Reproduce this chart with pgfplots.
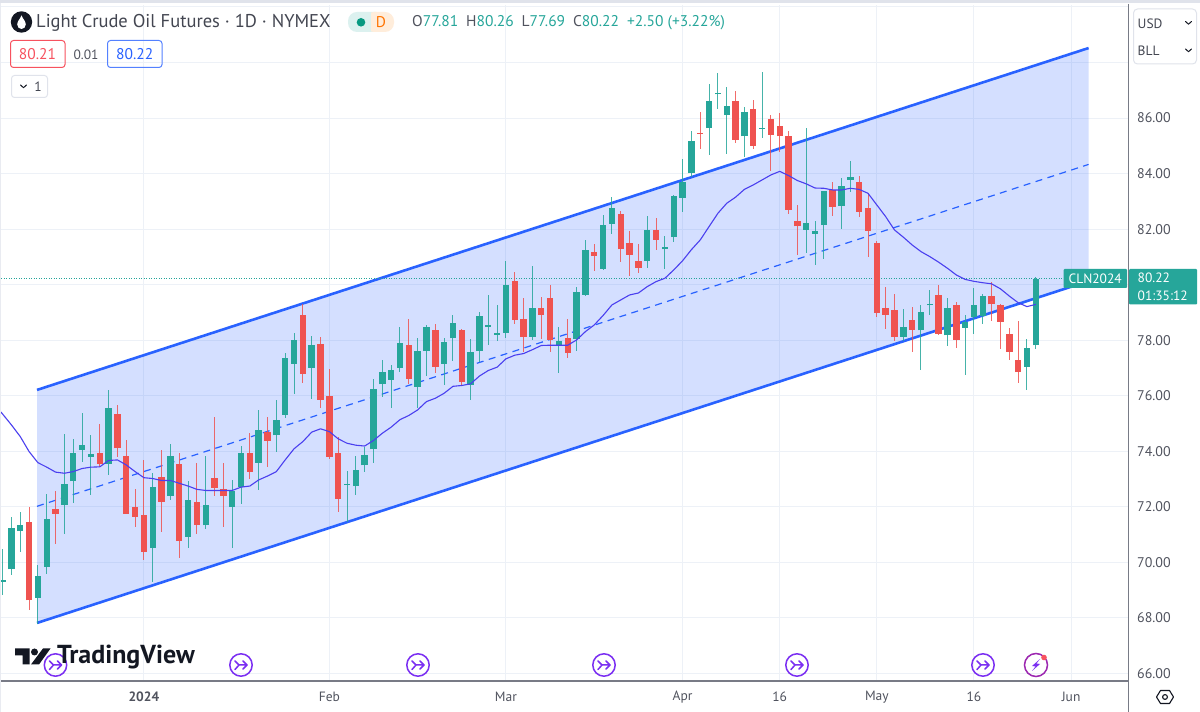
\documentclass[border=0pt]{standalone}
\usepackage{pgfplots}
\usepackage{pgfplotstable}
\usepackage{fontspec}
\pgfplotsset{compat=1.18}
\setmainfont{PT Sans}
\definecolor{cup}{HTML}{26A69A}
\definecolor{cdn}{HTML}{EF5350}
\definecolor{chan}{HTML}{2962FF}
\definecolor{ma}{HTML}{4A3FEF}
\definecolor{gridc}{HTML}{EDF1F7}
\definecolor{axc}{HTML}{787B86}
\definecolor{txt}{HTML}{50535E}
\definecolor{bord}{HTML}{E0E3EB}
\definecolor{evt}{HTML}{7B2FF2}
\definecolor{bolt}{HTML}{9C27B0}
\definecolor{dotg}{HTML}{089981}
\definecolor{ttl}{HTML}{434651}
\definecolor{logoc}{HTML}{131722}
\definecolor{redb}{HTML}{F7525F}
\pgfplotstableread{
i h t b l
0 70.49 69.37 69.29 68.81
1 71.65 71.24 69.75 69.53
2 71.81 71.35 71.13 70.37
4 69.89 69.50 68.72 67.79
5 72.47 71.58 69.85 69.59
7 74.61 72.84 72.06 71.04
8 74.45 73.95 72.92 72.15
9 75.37 74.22 74.04 73.62
10 74.58 73.89 73.81 72.44
12 76.21 75.57 73.56 73.15
17 73.23 72.71 70.51 69.31
19 74.25 73.82 72.39 72.23
21 72.93 72.24 70.92 70.51
23 73.82 72.05 71.33 71.19
26 72.97 72.57 71.99 70.53
27 74.18 73.95 72.71 72.12
29 75.48 74.78 73.59 72.59
31 75.84 75.12 74.57 73.97
32 77.53 77.36 75.30 75.19
33 78.25 78.01 77.15 76.08
35 78.15 77.83 77.00 75.89
39 73.29 72.83 72.78 71.45
40 73.82 73.33 72.75 72.43
41 74.17 73.86 73.49 73.25
42 76.61 76.25 74.07 73.58
43 77.30 76.87 76.41 75.96
44 77.10 76.93 76.58 75.56
45 78.49 77.89 77.01 76.87
47 78.09 77.60 76.33 75.56
48 78.53 78.49 77.61 76.71
50 78.09 77.93 77.16 76.37
51 78.92 78.62 78.07 77.24
53 78.06 77.59 76.40 75.86
54 79.01 78.87 77.61 77.22
55 79.64 78.55 78.47 77.81
56 79.27 78.25 78.20 77.97
57 80.87 79.98 78.27 78.07
60 80.66 79.15 78.13 78.01
63 78.49 77.96 77.81 76.81
65 79.91 79.74 78.05 77.60
66 81.62 81.26 79.63 79.59
68 82.51 82.15 80.58 80.57
69 83.15 82.75 82.20 81.83
73 82.47 81.96 80.85 80.61
75 81.75 81.36 81.27 80.58
76 83.22 83.18 81.71 81.55
77 84.51 83.70 83.13 82.63
78 85.53 85.16 84.01 83.89
80 87.24 86.60 85.64 84.68
81 87.63 86.91 86.85 86.34
82 87.11 86.45 86.10 84.72
84 86.39 86.22 85.34 84.59
86 87.67 85.65 85.61 85.27
91 85.65 82.21 81.97 81.13
92 82.28 81.92 81.84 80.72
93 83.39 83.37 82.14 80.91
95 83.84 83.57 82.83 82.01
96 84.47 83.87 83.78 83.35
102 79.11 78.49 78.13 77.96
104 79.28 79.02 78.35 76.91
105 79.81 79.29 79.25 78.92
107 79.51 79.15 78.17 77.79
109 78.91 78.67 78.44 76.73
110 79.88 79.25 78.84 78.24
111 79.67 79.58 78.87 78.60
116 78.06 77.72 77.05 76.19
117 80.26 80.22 77.81 77.69
}\UpTable
\pgfplotstableread{
i h t b l
3 71.99 71.45 68.63 68.27
6 72.57 71.91 71.76 70.67
11 74.97 73.93 73.55 73.44
13 75.68 75.33 74.11 73.79
14 74.42 73.82 71.76 71.76
15 72.63 72.01 71.64 71.27
16 73.67 71.71 70.38 70.07
18 74.03 73.07 72.19 71.11
20 73.95 73.53 70.77 70.17
22 73.59 72.18 71.36 71.04
24 75.25 73.03 72.69 72.39
25 73.57 72.63 72.39 71.27
28 74.65 73.93 73.26 73.02
30 75.25 74.69 74.37 73.44
34 79.31 78.91 76.79 76.45
36 78.12 77.85 75.86 75.55
37 76.97 75.98 73.81 73.74
38 74.51 73.93 72.29 71.83
46 78.78 77.82 76.62 76.43
49 78.59 78.36 77.05 76.81
52 78.39 78.38 76.50 76.37
58 80.45 80.13 78.74 78.59
59 79.52 78.75 78.13 77.57
61 79.55 79.15 78.92 78.03
62 80.00 79.51 78.01 77.58
64 78.75 78.08 77.54 77.37
67 81.47 81.17 81.03 80.51
70 82.64 82.55 81.27 80.83
71 81.92 81.49 81.08 80.31
72 81.45 80.87 80.61 80.43
74 82.39 81.96 81.61 81.24
79 86.22 85.47 85.43 84.87
83 86.96 86.60 85.21 85.11
85 86.64 86.31 85.01 84.87
87 86.11 85.95 85.40 84.09
88 86.18 85.71 85.34 84.79
89 85.53 85.34 82.70 82.56
90 82.86 82.28 82.10 81.07
94 83.71 83.41 82.80 82.46
97 83.90 83.70 82.63 82.44
98 83.29 82.77 81.95 80.99
99 81.59 81.49 78.99 78.85
100 79.91 79.15 78.92 78.42
101 79.65 79.08 78.11 77.97
103 79.19 78.73 78.37 77.58
106 79.99 79.62 78.24 78.17
108 79.38 79.25 78.01 77.71
112 80.10 79.58 79.29 78.69
113 79.31 79.25 78.67 77.67
114 78.43 78.21 77.58 77.27
115 78.68 77.29 76.85 76.45
}\DownTable
\pgfplotstableread{
i p
-0.2 75.42
1 74.95
2 74.53
3 73.99
4 73.59
5 73.43
6 73.25
7 73.21
8 73.27
9 73.38
10 73.43
11 73.44
12 73.67
13 73.69
14 73.51
15 73.27
16 73.05
17 73.02
18 72.95
19 72.95
20 72.85
21 72.75
22 72.63
23 72.59
24 72.59
25 72.59
26 72.59
27 72.71
28 72.75
29 72.97
30 73.11
31 73.27
32 73.69
33 74.09
34 74.35
35 74.69
36 74.81
37 74.71
38 74.45
39 74.29
40 74.22
41 74.19
42 74.39
43 74.65
44 74.87
45 75.14
46 75.29
47 75.49
48 75.79
49 75.91
50 76.09
51 76.34
52 76.37
53 76.43
54 76.71
55 76.91
56 77.03
57 77.33
58 77.46
59 77.52
60 77.66
61 77.81
62 77.82
63 77.82
64 77.82
65 78.01
66 78.31
67 78.55
68 78.89
69 79.27
70 79.45
71 79.63
72 79.70
73 79.93
74 80.11
75 80.23
76 80.53
77 80.86
78 81.26
79 81.61
80 82.09
81 82.57
82 82.93
83 83.15
84 83.43
85 83.59
86 83.77
87 83.95
88 84.08
89 83.93
90 83.75
91 83.63
92 83.48
93 83.47
94 83.41
95 83.41
96 83.47
97 83.43
98 83.29
99 82.87
100 82.45
101 81.97
102 81.71
103 81.43
104 81.19
105 81.01
106 80.81
107 80.59
108 80.35
109 80.19
110 80.12
111 80.07
112 80.03
113 79.85
114 79.59
115 79.35
116 79.21
117 79.29
}\MATable
\newcommand{\evticon}[2]{%
  \begin{scope}[shift={(#1,#2)}]
    \draw[evt,line width=1.5pt] (0,0) circle (11.2);
    \draw[evt,line width=1.5pt,line cap=round,line join=round]
      (-6,-4) -- (-2,0) -- (-6,4.5) (-2,0) -- (6,0) (2,-4) -- (6,0) -- (2,4);
  \end{scope}}
\newcommand{\chev}[2]{\draw[logoc,line width=1pt,line cap=round,line join=round] (#1-3,#2-1.5) -- (#1,#2+1.2) -- (#1+3,#2-1.5);}
\begin{document}
\begin{tikzpicture}[x=1pt,y=1pt]
\path[use as bounding box,fill=white] (0,0) rectangle (1200,712);
\begin{axis}[
  at={(0pt,31pt)}, anchor=south west,
  scale only axis, width=1128.5pt, height=676pt,
  xmin=-0.295, xmax=127.5, ymin=65.73, ymax=90.07,
  axis line style={draw=none}, clip=true,
  major tick length=0pt,
  xtick={16,37,57,77,88,99,110,121},
  xticklabels={\textbf{2024},Feb,Mar,Apr,16,May,16,Jun},
  ytick={66,68,70,72,74,76,78,82,84,86},
  extra y ticks={80,88,90}, extra y tick labels={},
  extra y tick style={grid=major},
  yticklabel pos=right,
  grid=major,
  grid style={gridc,line width=1pt},
  xticklabel style={anchor=center,inner sep=0pt,yshift=-16pt,font=\fontsize{13.5}{14}\selectfont,text=txt},
  yticklabel style={anchor=west,inner sep=0pt,xshift=8.5pt,font=\fontsize{14}{15}\selectfont,text=txt,
    /pgf/number format/.cd,fixed,fixed zerofill,precision=2,assume math mode=true},
]
% channel fill
\addplot[fill=chan,fill opacity=0.2,draw=none,forget plot] coordinates
  {(3.896,76.21) (122.98,88.52) (122.98,80.13) (3.896,67.82)} -- cycle;
\addplot[chan,line width=1.2pt,dash pattern=on 7pt off 5.5pt] coordinates {(3.896,72.02) (122.98,84.33)};
\addplot[chan,line width=2.6pt] coordinates {(3.896,76.21) (122.98,88.52)};
\addplot[chan,line width=2.6pt] coordinates {(3.896,67.82) (122.98,80.13)};
% last price line
\addplot[cup,line width=0.9pt,dash pattern=on 1pt off 1.5pt] coordinates {(-1,80.22) (120,80.22)};
% wicks
\addplot[draw=none,no markers,error bars/.cd,y dir=both,y explicit,error mark=none,
  error bar style={cup,line width=1pt,opacity=0.85,solid}]
  table[x=i,y=b,y error plus expr=\thisrow{h}-\thisrow{b},y error minus expr=\thisrow{b}-\thisrow{l}] {\UpTable};
\addplot[draw=none,no markers,error bars/.cd,y dir=both,y explicit,error mark=none,
  error bar style={cdn,line width=1pt,opacity=0.85,solid}]
  table[x=i,y=b,y error plus expr=\thisrow{h}-\thisrow{b},y error minus expr=\thisrow{b}-\thisrow{l}] {\DownTable};
% bodies
\addplot[draw=none,no markers,error bars/.cd,y dir=plus,y explicit,error mark=none,
  error bar style={cup,line width=6.4pt,solid}]
  table[x=i,y=b,y error plus expr=\thisrow{t}-\thisrow{b}] {\UpTable};
\addplot[draw=none,no markers,error bars/.cd,y dir=plus,y explicit,error mark=none,
  error bar style={cdn,line width=6.4pt,solid}]
  table[x=i,y=b,y error plus expr=\thisrow{t}-\thisrow{b}] {\DownTable};
% moving average
\addplot[ma,line width=1.1pt,line join=round] table[x=i,y=p] {\MATable};
\end{axis}
\begin{scope}[y=-1pt,yshift=712pt]
% frame
\fill[bord] (0,0) rectangle (1200,3);
\fill[bord!70] (0,3) rectangle (1,712);
\draw[axc,line width=1.1pt] (1,681) -- (1128.5,681);
\draw[axc,line width=1.1pt] (1128.5,4) -- (1128.5,712);
% header
\fill[logoc] (21.5,22) circle (10.7);
\fill[white] (21.5,15.5) .. controls (20,19) and (17.2,21.5) .. (17.2,24.5)
  .. controls (17.2,27) and (19.2,29) .. (21.5,29)
  .. controls (23.8,29) and (25.8,27) .. (25.8,24.5)
  .. controls (25.8,21.5) and (23,19) .. (21.5,15.5) -- cycle;
\node[anchor=west,inner sep=0pt,text=ttl,font=\fontsize{18.5}{19}\selectfont] at (36,23) {Light Crude Oil Futures · 1D · NYMEX};
\fill[cup!16,rounded corners=9pt] (348,12) rectangle (385,32);
\fill[orange!14,rounded corners=9pt] (365,12) rectangle (394,32);
\fill[cup!16] (360,12) rectangle (371,32);
\fill[dotg] (361,22.3) circle (4.3);
\node[inner sep=0pt,text=orange!90!red,font=\fontsize{15.5}{16}\selectfont] at (381,22.3) {D};
\node[anchor=west,inner sep=0pt,font=\fontsize{15.5}{16}\selectfont] at (412,22.3)
  {\textcolor{txt}{O}\textcolor{cup}{77.81}\hspace{8pt}\textcolor{txt}{H}\textcolor{cup}{80.26}\hspace{8pt}\textcolor{txt}{L}\textcolor{cup}{77.69}\hspace{8pt}\textcolor{txt}{C}\textcolor{cup}{80.22}\hspace{8pt}\textcolor{cup}{+2.50 (+3.22\%)}};
\draw[redb,line width=1pt,rounded corners=3pt] (10.5,40.5) rectangle (65,67.5);
\node[inner sep=0pt,text=redb,font=\fontsize{15.5}{16}\selectfont] at (37.5,54.5) {80.21};
\node[inner sep=0pt,text=txt,font=\fontsize{13.5}{14}\selectfont] at (86,54.5) {0.01};
\draw[chan!80,line width=1pt,rounded corners=3pt] (107.5,40.5) rectangle (162,67.5);
\node[inner sep=0pt,text=chan,font=\fontsize{15.5}{16}\selectfont] at (134.7,54.5) {80.22};
\draw[bord,line width=1pt,rounded corners=3pt,fill=white] (11.5,75.5) rectangle (47.5,97.5);
\chev{23.5}{86.5}
\node[inner sep=0pt,text=ttl,font=\fontsize{13.5}{14}\selectfont] at (38,86.5) {1};
% right controls
\draw[bord,line width=1pt,rounded corners=4pt,fill=white] (1133.5,9) rectangle (1196.5,64);
\node[anchor=west,inner sep=0pt,text=ttl,font=\fontsize{13.5}{14}\selectfont] at (1137.5,23.5) {USD};
\node[anchor=west,inner sep=0pt,text=ttl,font=\fontsize{13.5}{14}\selectfont] at (1137.5,51) {BLL};
\chev{1188.5}{23}
\chev{1188.5}{50.5}
% price tags
\fill[cup,rounded corners=1pt] (1063.5,269) rectangle (1127,288);
\node[inner sep=0pt,text=white,font=\fontsize{13.5}{14}\selectfont] at (1095.2,278.5) {CLN2024};
\fill[cup,rounded corners=1pt] (1129,269) rectangle (1197,304.5);
\node[anchor=west,inner sep=0pt,text=white,font=\fontsize{13.5}{14}\selectfont] at (1137.5,278) {80.22};
\node[anchor=west,inner sep=0pt,text=white,font=\fontsize{13.5}{14}\selectfont] at (1137.5,295.5) {01:35:12};
% events
\evticon{55.5}{665}
\evticon{241}{665}
\evticon{418}{665}
\evticon{604}{665}
\evticon{797}{665}
\evticon{983}{665}
\draw[bolt,line width=1.5pt] (1036,665) circle (11.5);
\fill[evt] (1040,659) -- (1032,666) -- (1035.5,666.5) -- (1032,671) -- (1040,664) -- (1036.5,663.5) -- cycle;
\fill[redb] (1044,657.5) circle (2.8);
% logo
\fill[logoc] (15,648.5) -- (29.5,648.5) -- (29.5,664.5) -- (22.5,664.5) -- (22.5,655.5) -- (15,655.5) -- cycle;
\fill[logoc] (34.5,652) circle (3.5);
\fill[logoc] (43,648.5) -- (50.5,648.5) -- (39,664.5) -- (31,664.5) -- cycle;
\node[anchor=west,inner sep=0pt,text=logoc,font=\fontsize{26}{28}\bfseries\selectfont] at (57,657) {TradingView};
% hexagon
\draw[logoc,line width=1.1pt,line join=round] (1156.5,697) -- (1160.5,690.5) -- (1169.5,690.5) -- (1173.5,697) -- (1169.5,703.5) -- (1160.5,703.5) -- cycle;
\draw[logoc,line width=1.1pt] (1165,697) circle (2.4);
\end{scope}
\end{tikzpicture}
\end{document}
